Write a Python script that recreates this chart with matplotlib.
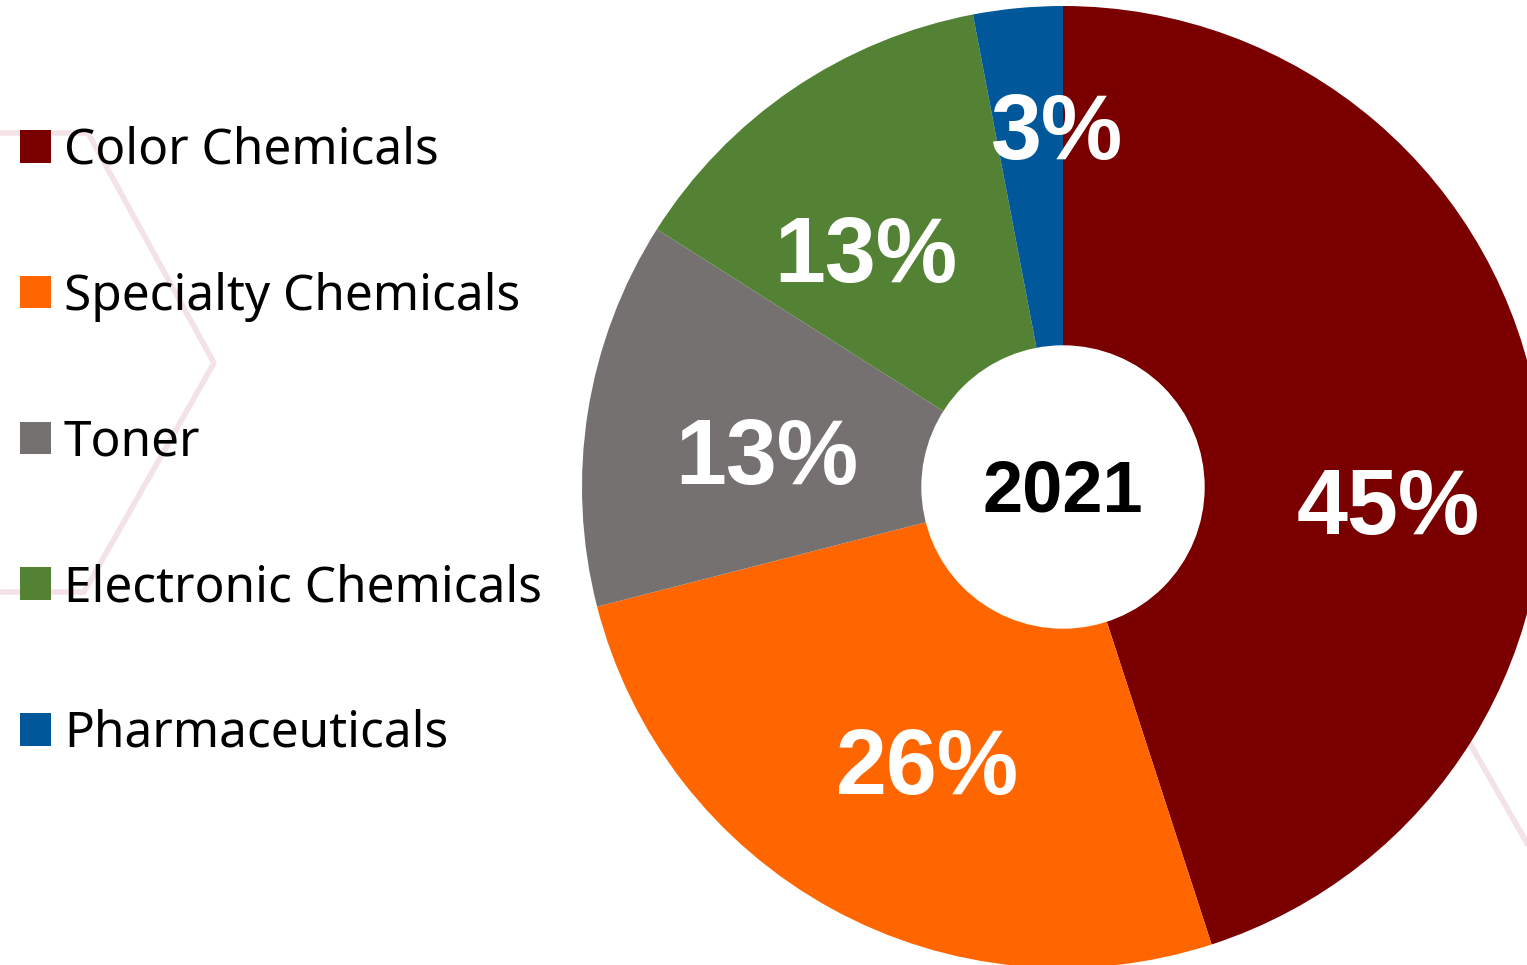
import matplotlib.pyplot as plt
from matplotlib.patches import Circle

labels = ['Color Chemicals', 'Specialty Chemicals', 'Toner',
          'Electronic Chemicals', 'Pharmaceuticals']
shares = [45, 26, 13, 13, 3]
colors = ['#7a0000', '#ff6600', '#767171', '#548235', '#00589a']
year = '2021'

W, H = 1527, 965
fig = plt.figure(figsize=(W / 100, H / 100), dpi=100)
ax = fig.add_axes([0, 0, 1, 1])

# faint hexagon outlines in the background
hex_col = '#f3e3e7'
ax.plot([0, 88, 214, 84, 0], [H - 133, H - 133, H - 363, H - 592, H - 592],
        color=hex_col, lw=4, zorder=0)
ax.plot([1468, 1527], [H - 740, H - 843], color=hex_col, lw=4, zorder=0)

cx, cy, r = 1063, H - 487, 481
wedges, _ = ax.pie(shares, colors=colors, startangle=90, counterclock=False,
                   center=(cx, cy), radius=r,
                   wedgeprops=dict(linewidth=0))
ax.add_patch(Circle((cx, cy), 141, color='white', zorder=3))
ax.text(cx, cy - 6, year, ha='center', va='center', fontsize=52,
        fontweight='bold', family='Liberation Sans', zorder=4)

# percent labels
lab_pos = [(1388, 510), (927, 770), (767, 460), (866, 258), (1057, 135)]
for s, (x, y) in zip(shares, lab_pos):
    ax.text(x, H - y, f'{s}%', ha='center', va='center', color='white',
            fontsize=66, fontweight='bold', family='Liberation Sans', zorder=4)

ax.set_xlim(0, W)
ax.set_ylim(0, H)
ax.set_aspect('auto')
ax.axis('off')

ax.legend(wedges, labels, loc='upper left', bbox_to_anchor=(0.0, 0.89),
          frameon=False, prop={'family': 'Noto Sans', 'size': 35.7},
          handlelength=0.63, handleheight=0.63, handletextpad=0.26,
          labelspacing=1.93, borderaxespad=0)

fig.savefig('out.png', dpi=100)
